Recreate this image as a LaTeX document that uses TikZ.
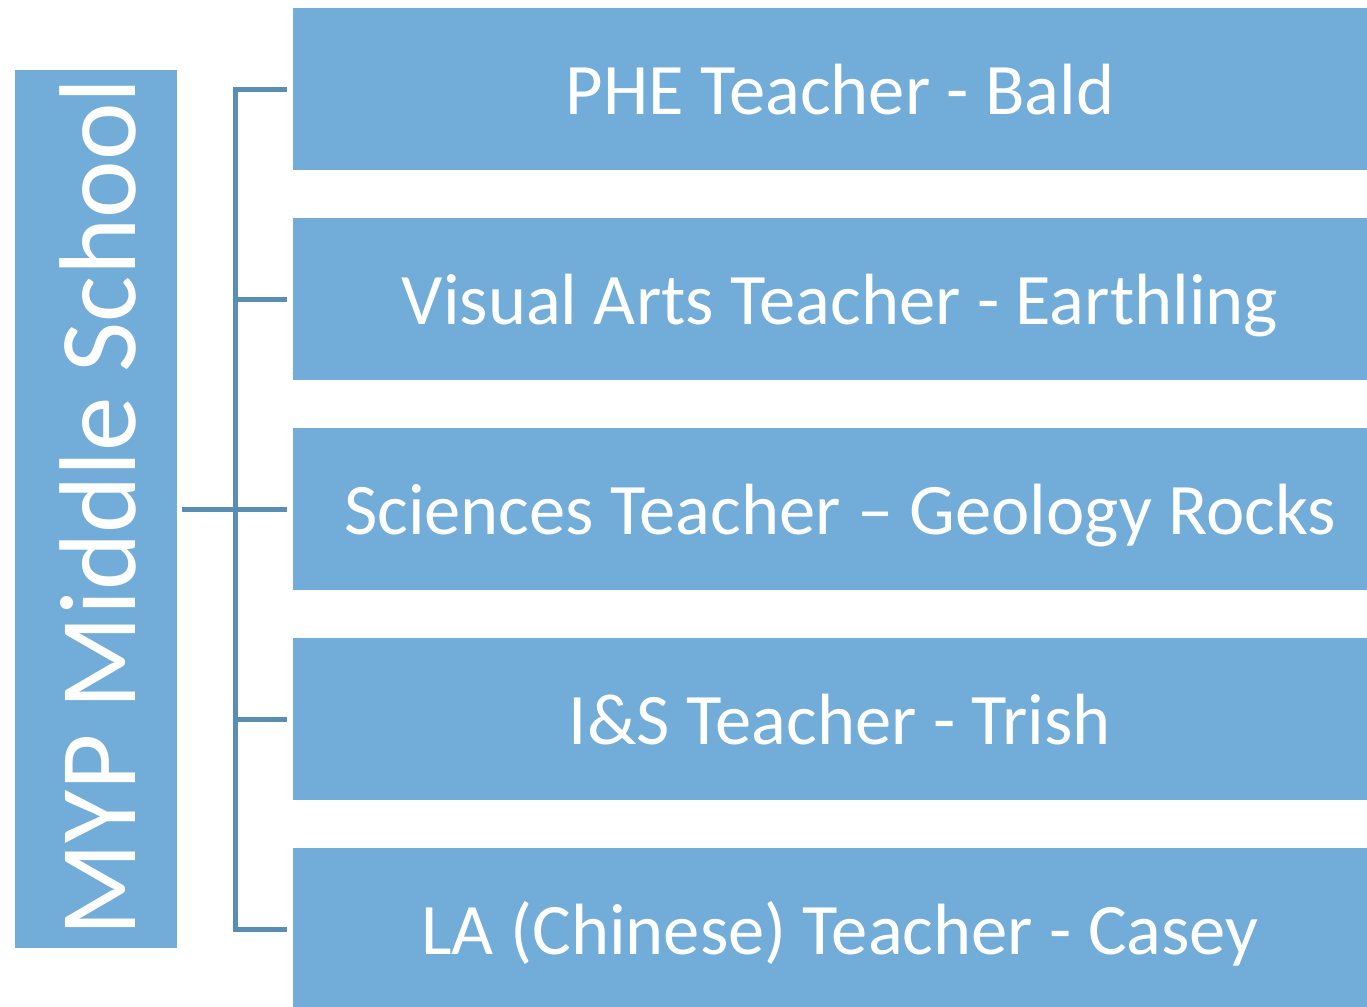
\documentclass[tikz,border=0pt]{standalone}
\usepackage{fontspec}
\setmainfont{Carlito}
\usepackage{tikz}
\usetikzlibrary{positioning}
\usepackage{xcolor}
\definecolor{mypblue}{RGB}{113,173,216}
\definecolor{myplink}{RGB}{88,141,180}
\tikzstyle{schoolbox} = [rectangle, minimum width=81pt, minimum height=439pt, inner sep=0pt, outer sep=0pt, fill=mypblue, text=white]
\tikzstyle{teacherbox} = [rectangle, minimum width=547pt, minimum height=81pt, inner sep=0pt, outer sep=0pt, text height=25pt, text depth=0pt, fill=mypblue, text=white, font=\fontsize{36.3}{42}\selectfont]
\tikzstyle{link} = [line width=2.5pt, color=myplink]

\begin{document}
\begin{tikzpicture}[x=0.5pt, y=-0.5pt, node distance=24pt]
\useasboundingbox (0,0) rectangle (1367,1007);

% School node
\node[schoolbox] (school) at (96,509) {};
\node[rotate=90, text=white, font=\fontsize{54.6}{60}\selectfont, inner sep=0pt] (schoolname) at (98,507.5) {MYP Middle School};

% Teacher nodes
\node[teacherbox] (phe) at (840,89) {PHE Teacher - Bald};
\node[teacherbox, below=of phe] (arts) {Visual Arts Teacher - Earthling};
\node[teacherbox, below=of arts] (sci) {Sciences Teacher -- Geology Rocks};
\node[teacherbox, below=of sci] (ins) {I\&S Teacher - Trish};
\node[teacherbox, below=of ins] (la) {LA (Chinese) Teacher - Casey};

% Connections
\coordinate (spine) at (235,0);
\draw[link, shorten <=2.5pt, shorten >=3pt] (school.east) -- (school.east -| sci.west);
\draw[link, shorten <=3pt, shorten >=3pt] (phe.west) -| (spine |- la.west) -- (la.west);
\draw[link, shorten >=3pt] (spine |- arts.west) -- (arts.west);
\draw[link, shorten >=3pt] (spine |- ins.west) -- (ins.west);
\end{tikzpicture}
\end{document}
